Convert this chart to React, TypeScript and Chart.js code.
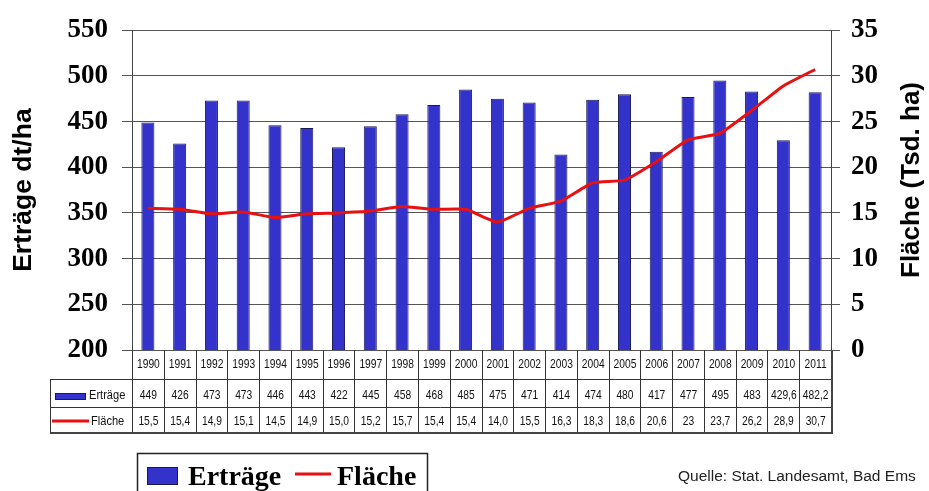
import React, { useEffect, useRef } from 'react';
import { Chart, registerables } from 'chart.js';

Chart.register(...registerables);

const years = ['1990', '1991', '1992', '1993', '1994', '1995', '1996', '1997', '1998', '1999', '2000', '2001', '2002', '2003', '2004', '2005', '2006', '2007', '2008', '2009', '2010', '2011'];
const ertraege = [449, 426, 473, 473, 446, 443, 422, 445, 458, 468, 485, 475, 471, 414, 474, 480, 417, 477, 495, 483, 429.6, 482.2];
const flaeche = [15.5, 15.4, 14.9, 15.1, 14.5, 14.9, 15.0, 15.2, 15.7, 15.4, 15.4, 14.0, 15.5, 16.3, 18.3, 18.6, 20.6, 23, 23.7, 26.2, 28.9, 30.7];
const ertraegeText = ['449', '426', '473', '473', '446', '443', '422', '445', '458', '468', '485', '475', '471', '414', '474', '480', '417', '477', '495', '483', '429,6', '482,2'];
const flaecheText = ['15,5', '15,4', '14,9', '15,1', '14,5', '14,9', '15,0', '15,2', '15,7', '15,4', '15,4', '14,0', '15,5', '16,3', '18,3', '18,6', '20,6', '23', '23,7', '26,2', '28,9', '30,7'];

const BAR_FILL = '#3333cc';
const BAR_BORDER = '#1a1a50';
const LINE_RED = '#e81010';
const GRID = '#555555';

const tablePlugin = {
  id: 'dataTable',
  afterDraw(chart: any) {
    const ctx: CanvasRenderingContext2D = chart.ctx;
    const area = chart.chartArea;
    const n = years.length;
    const w = (area.right - area.left) / n;
    const top = Math.round(area.bottom);
    const r1 = 379;
    const r2 = 407;
    const r3 = 433;
    const labelLeft = 50;
    const right = Math.round(area.right);

    ctx.save();
    ctx.strokeStyle = '#333';
    ctx.lineWidth = 1;
    const line = (x1: number, y1: number, x2: number, y2: number) => {
      ctx.beginPath();
      ctx.moveTo(x1, y1);
      ctx.lineTo(x2, y2);
      ctx.stroke();
    };
    for (let i = 0; i <= n; i++) {
      const x = Math.round(area.left + i * w) + 0.5;
      line(x, top, x, r3);
    }
    line(labelLeft, r1 + 0.5, right + 0.5, r1 + 0.5);
    line(labelLeft, r2 + 0.5, right + 0.5, r2 + 0.5);
    line(labelLeft + 0.5, r1, labelLeft + 0.5, r3);
    ctx.lineWidth = 2;
    ctx.strokeStyle = '#444';
    line(labelLeft, r3, right + 1, r3);
    line(right + 1, top, right + 1, r3 + 1);

    ctx.fillStyle = '#111';
    ctx.font = '13.5px "Liberation Sans", Arial, sans-serif';
    ctx.textBaseline = 'middle';
    const narrow = (text: string, x: number, y: number, align: CanvasTextAlign, sx = 0.76) => {
      ctx.save();
      ctx.translate(x, y);
      ctx.scale(sx, 1);
      ctx.textAlign = align;
      ctx.fillText(text, 0, 0);
      ctx.restore();
    };
    const xs = chart.scales.x;
    for (let i = 0; i < n; i++) {
      const cx = xs.getPixelForValue(i) + 0.5;
      narrow(years[i], cx, 364.5, 'center');
      narrow(ertraegeText[i], cx, 395.5, 'center');
      narrow(flaecheText[i], cx, 421.5, 'center');
    }
    ctx.fillStyle = BAR_FILL;
    ctx.fillRect(55, 393, 30, 6);
    ctx.lineWidth = 1;
    ctx.strokeStyle = BAR_BORDER;
    ctx.strokeRect(55.5, 393.5, 30, 6);
    ctx.fillStyle = '#111';
    narrow('Erträge', 89, 395.5, 'left', 0.82);
    ctx.strokeStyle = LINE_RED;
    ctx.lineWidth = 3;
    line(52, 421, 89, 421);
    narrow('Fläche', 91, 421.5, 'left', 0.82);

    // right axis title (reads bottom to top)
    ctx.save();
    ctx.translate(912, 180);
    ctx.rotate(-Math.PI / 2);
    ctx.fillStyle = '#000';
    ctx.font = 'bold 26px "Liberation Sans", Arial, sans-serif';
    ctx.textAlign = 'center';
    ctx.textBaseline = 'middle';
    ctx.fillText('Fläche (Tsd. ha)', 0, 0);
    ctx.restore();

    // legend box
    ctx.strokeStyle = '#222';
    ctx.lineWidth = 1.5;
    ctx.strokeRect(137.5, 453.5, 290, 60);
    ctx.fillStyle = BAR_FILL;
    ctx.fillRect(147, 467, 31, 18);
    ctx.strokeStyle = BAR_BORDER;
    ctx.lineWidth = 1;
    ctx.strokeRect(147.5, 467.5, 30, 17);
    ctx.fillStyle = '#000';
    ctx.font = 'bold 28px "Liberation Serif", "Times New Roman", serif';
    ctx.textAlign = 'left';
    ctx.textBaseline = 'alphabetic';
    ctx.fillText('Erträge', 188, 485);
    ctx.strokeStyle = LINE_RED;
    ctx.lineWidth = 3;
    line(295, 474, 331, 474);
    ctx.fillText('Fläche', 337, 485);

    ctx.fillStyle = '#222';
    ctx.font = '15.5px "Liberation Sans", Arial, sans-serif';
    ctx.textBaseline = 'middle';
    ctx.fillText('Quelle: Stat. Landesamt, Bad Ems', 678, 477);
    ctx.restore();
  },
};

export default function App() {
  const canvasRef = useRef<HTMLCanvasElement | null>(null);

  useEffect(() => {
    if (!canvasRef.current) return;
    const tickFont = { family: '"Liberation Serif", "Times New Roman", serif', weight: 'bold' as const, size: 27 };
    const titleFont = { family: '"Liberation Sans", Arial, sans-serif', weight: 'bold' as const, size: 26.5 };
    const chart = new Chart(canvasRef.current, {
      type: 'bar',
      data: {
        labels: years,
        datasets: [
          {
            type: 'line' as const,
            label: 'Fläche',
            data: flaeche,
            yAxisID: 'y1',
            borderColor: LINE_RED,
            backgroundColor: LINE_RED,
            borderWidth: 3,
            pointRadius: 0,
            tension: 0.15,
            order: 0,
          },
          {
            type: 'bar' as const,
            label: 'Erträge',
            data: ertraege,
            yAxisID: 'y',
            backgroundColor: BAR_FILL,
            borderColor: BAR_BORDER,
            borderWidth: 1,
            barPercentage: 0.41,
            categoryPercentage: 1,
            order: 1,
          },
        ],
      } as any,
      options: {
        responsive: true,
        maintainAspectRatio: false,
        animation: false,
        layout: { padding: { top: 24, bottom: 141, left: 0, right: 0 } },
        plugins: { legend: { display: false }, tooltip: { enabled: false } },
        scales: {
          x: { type: 'category', display: false, offset: true },
          y: {
            position: 'left',
            min: 200,
            max: 550,
            ticks: { stepSize: 50, font: tickFont, color: '#000', padding: 14 },
            grid: { color: GRID, tickLength: 10, lineWidth: 1 },
            border: { color: '#444' },
            title: { display: true, text: 'Erträge dt/ha', font: titleFont, color: '#000', padding: { top: 8, bottom: 0 } },
            afterFit: (s: any) => { s.width = 132; },
          },
          y1: {
            position: 'right',
            min: 0,
            max: 35,
            ticks: { stepSize: 5, font: tickFont, color: '#000', padding: 11 },
            grid: { drawOnChartArea: false, color: GRID, tickLength: 9 },
            border: { color: '#444' },
            title: { display: false },
            afterFit: (s: any) => { s.width = 98; },
          },
        },
      } as any,
      plugins: [tablePlugin],
    });
    return () => chart.destroy();
  }, []);

  return (
    <div style={{ position: 'absolute', left: 0, top: 0, width: 929, height: 491, background: '#fff' }}>
      <canvas ref={canvasRef} />
    </div>
  );
}
